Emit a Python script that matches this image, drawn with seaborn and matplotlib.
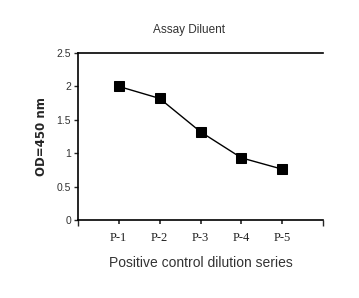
import numpy as np
import pandas as pd
import seaborn as sns
import matplotlib.pyplot as plt

# Data
dilutions = ["P-1", "P-2", "P-3", "P-4", "P-5"]
positions = [1, 2, 3, 4, 5]
od_values = [2.00, 1.82, 1.32, 0.93, 0.76]

df = pd.DataFrame({"pos": positions, "od": od_values, "label": dilutions})

sns.set_theme(style="white")
plt.rcParams['font.family'] = ['Liberation Sans', 'DejaVu Sans']

fig = plt.figure(figsize=(3.59, 2.98), dpi=100)
ax = fig.add_axes([0.217, 0.262, 0.683, 0.560])

sns.lineplot(data=df, x="pos", y="od", ax=ax, color="black", linewidth=1.0,
             marker="s", markersize=7, markeredgecolor="black",
             markerfacecolor="black")

ax.set_xlim(0, 6)
ax.set_ylim(0, 2.5)
ax.set_yticks([0, 0.5, 1, 1.5, 2, 2.5])
ax.set_yticklabels(["0", "0.5", "1", "1.5", "2", "2.5"], fontsize=7.5, color="#333333")
ax.set_xticks(positions)
ax.set_xticklabels(dilutions, fontsize=9, family="Liberation Serif", color="#222222")
ax.set_xticks([0, 6], minor=True)

ax.tick_params(axis="y", which="major", direction="out", length=3, width=1,
               left=True, pad=2)
ax.tick_params(axis="x", which="major", direction="out", length=3, width=1.2,
               bottom=True, pad=6)
ax.tick_params(axis="x", which="minor", direction="out", length=4, width=1,
               bottom=True)

for side in ["left", "bottom", "top"]:
    ax.spines[side].set_visible(True)
    ax.spines[side].set_color("black")
    ax.spines[side].set_linewidth(1.2)
ax.spines["right"].set_visible(False)

ax.set_xlabel("Positive control dilution series", fontsize=10, color="#333333",
              labelpad=8)
ax.set_ylabel("OD=450 nm", fontsize=8.5, fontweight="bold", family="DejaVu Sans",
              labelpad=6)

fig.text(0.527, 0.899, "Assay Diluent", ha="center", va="center", fontsize=8.5,
         color="#333333")

fig.savefig("out.png", dpi=100)
